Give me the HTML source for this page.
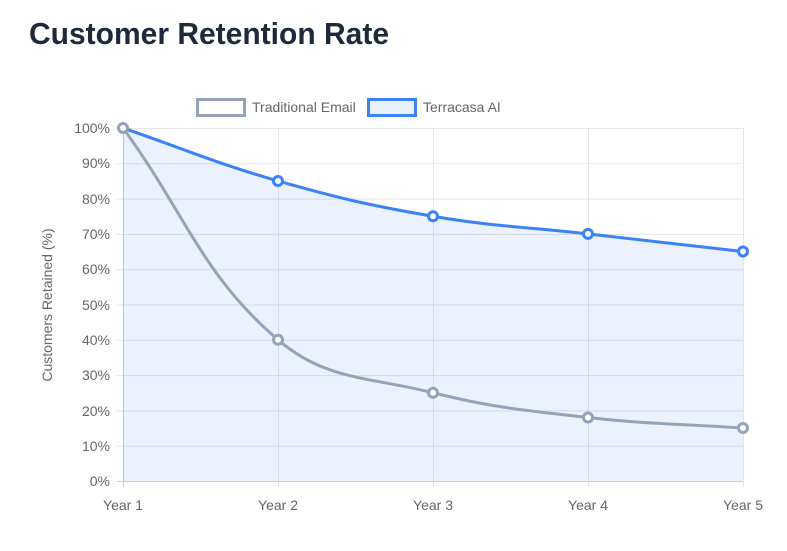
<!DOCTYPE html>
<html><head><meta charset="utf-8"><style>
html,body{margin:0;padding:0;background:#fff;width:787px;height:551px;overflow:hidden}
</style></head><body>
<svg width="787" height="551" viewBox="0 0 787 551" xmlns="http://www.w3.org/2000/svg" font-family="Liberation Sans, sans-serif">
<text x="29" y="44" font-size="31" font-weight="bold" fill="#1e293b" textLength="360" lengthAdjust="spacingAndGlyphs">Customer Retention Rate</text>
<!-- legend -->
<rect x="197.5" y="99.5" width="47" height="16" fill="#fff" stroke="#94a3b8" stroke-width="3"/>
<text x="252" y="112" font-size="14" fill="#666">Traditional Email</text>
<rect x="368.5" y="99.5" width="47" height="16" fill="#e8effd" stroke="#3b82f6" stroke-width="3"/>
<text x="423" y="112" font-size="14" fill="#666">Terracasa AI</text>
<!-- grid -->
<g stroke="#e5e5e5" stroke-width="1">
<line x1="117" y1="128.5" x2="743" y2="128.5"/><line x1="117" y1="163.8" x2="743" y2="163.8"/>
<line x1="117" y1="199.1" x2="743" y2="199.1"/><line x1="117" y1="234.4" x2="743" y2="234.4"/>
<line x1="117" y1="269.7" x2="743" y2="269.7"/><line x1="117" y1="305" x2="743" y2="305"/>
<line x1="117" y1="340.3" x2="743" y2="340.3"/><line x1="117" y1="375.6" x2="743" y2="375.6"/>
<line x1="117" y1="410.9" x2="743" y2="410.9"/><line x1="117" y1="446.2" x2="743" y2="446.2"/>
<line x1="278.5" y1="128" x2="278.5" y2="487"/><line x1="433.5" y1="128" x2="433.5" y2="487"/>
<line x1="588.5" y1="128" x2="588.5" y2="487"/><line x1="743.5" y1="128" x2="743.5" y2="487"/>
</g>
<g stroke="#ccc"><line x1="117" y1="481.5" x2="743" y2="481.5"/><line x1="123.5" y1="128" x2="123.5" y2="487"/></g>
<!-- y labels -->
<g font-size="14" fill="#666" text-anchor="end">
<text x="110" y="133">100%</text><text x="110" y="168">90%</text><text x="110" y="204">80%</text>
<text x="110" y="239">70%</text><text x="110" y="274">60%</text><text x="110" y="310">50%</text>
<text x="110" y="345">40%</text><text x="110" y="380">30%</text><text x="110" y="416">20%</text>
<text x="110" y="451">10%</text><text x="110" y="486">0%</text>
</g>
<g font-size="14" fill="#666" text-anchor="middle">
<text x="123" y="510">Year 1</text><text x="278" y="510">Year 2</text><text x="433" y="510">Year 3</text>
<text x="588" y="510">Year 4</text><text x="743" y="510">Year 5</text>
</g>
<text transform="translate(52,305) rotate(-90)" font-size="14" fill="#666" text-anchor="middle">Customers Retained (%)</text>
<!-- blue fill -->
<path d="M123,128 C185,149.2 215.1,163.05 278,180.95 C339.1,198.35 370.4,205.55 433,216.25 C494.4,226.75 526,226.84 588,233.9 C650,240.96 681,244.5 743,251.55 L743,481 L123,481 Z" fill="rgba(59,130,246,0.1)"/>
<path d="M123,128 C185,212.7 201.7,274.7 278,339.8 C325.7,380.6 369.6,376.85 433,392.75 C493.6,407.95 525.7,410.4 588,417.5 C649.7,424.5 681,423.8 743,428.05" fill="none" stroke="#94a3b8" stroke-width="3"/>
<path d="M123,128 C185,149.2 215.1,163.05 278,180.95 C339.1,198.35 370.4,205.55 433,216.25 C494.4,226.75 526,226.84 588,233.9 C650,240.96 681,244.5 743,251.55" fill="none" stroke="#3b82f6" stroke-width="3"/>
<g fill="#fff" stroke="#94a3b8" stroke-width="3">
<circle cx="123" cy="128" r="4.5"/><circle cx="278" cy="339.8" r="4.5"/><circle cx="433" cy="392.75" r="4.5"/><circle cx="588" cy="417.5" r="4.5"/><circle cx="743" cy="428.05" r="4.5"/>
</g>
<g fill="#fff" stroke="#3b82f6" stroke-width="3">
<circle cx="278" cy="180.95" r="4.5"/><circle cx="433" cy="216.25" r="4.5"/><circle cx="588" cy="233.9" r="4.5"/><circle cx="743" cy="251.55" r="4.5"/>
</g>
</svg>
</body></html>
